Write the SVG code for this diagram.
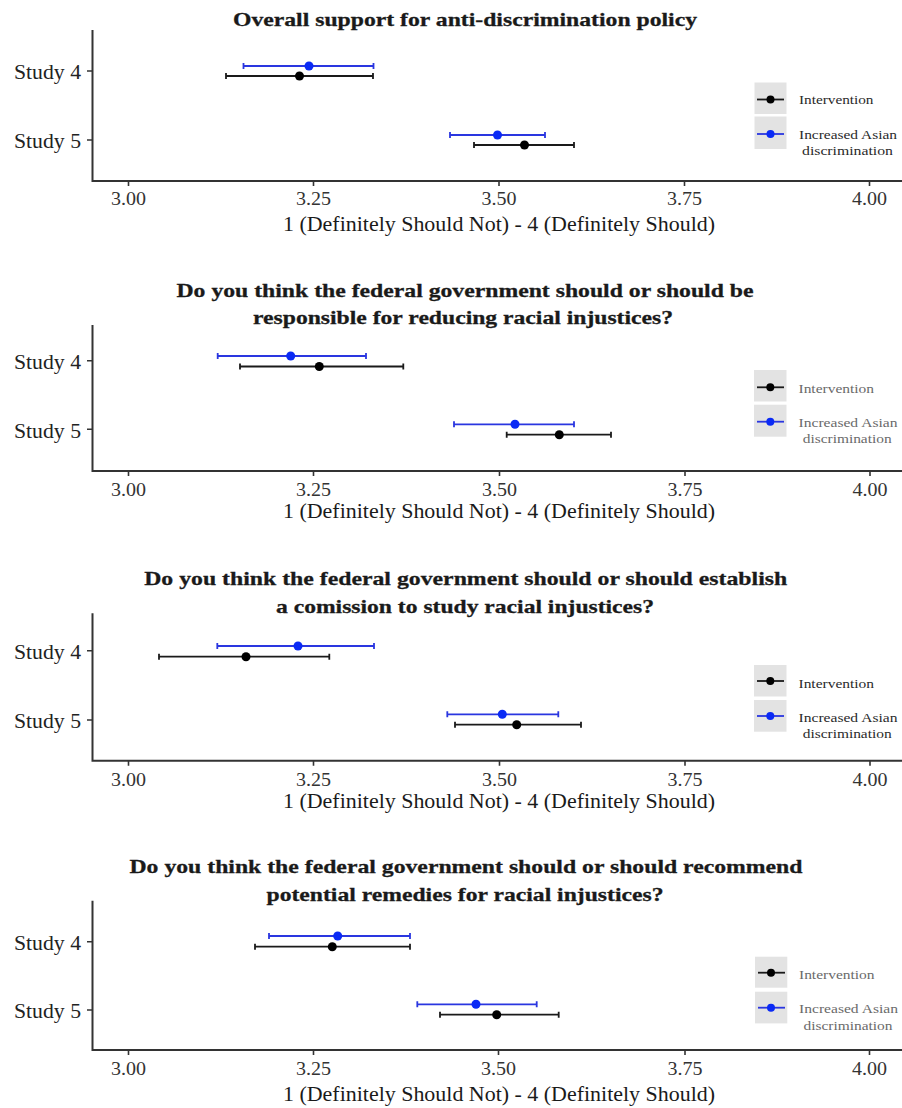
<svg xmlns="http://www.w3.org/2000/svg" width="902" height="1108" viewBox="0 0 902 1108">
<style>
.title{font-family:"Liberation Serif","Times New Roman",serif;font-weight:bold;font-size:19.5px;fill:#1a1a1a;stroke:#1a1a1a;stroke-width:0.3px;text-anchor:middle}
.ylab{font-family:"Liberation Serif","Times New Roman",serif;font-size:20px;fill:#222;text-anchor:end}
.tick{font-family:"Liberation Serif","Times New Roman",serif;font-size:19px;fill:#333;text-anchor:middle}
.xtitle{font-family:"Liberation Serif","Times New Roman",serif;font-size:20px;fill:#1a1a1a;text-anchor:middle}
.leg{font-family:"Liberation Serif","Times New Roman",serif;font-size:13.5px;fill:#2a2a2a}
.legc{font-family:"Liberation Serif","Times New Roman",serif;font-size:13.5px;fill:#2a2a2a;text-anchor:middle}
.faded .leg,.faded .legc{fill:#6a6a6a}
.axis{stroke:#333;stroke-width:2;fill:none}
.tk{stroke:#333;stroke-width:1.6}
.key{fill:#e3e3e3}
.bk{stroke:#1a1a1a;stroke-width:1.8;fill:none}
.bl{stroke:#2a36e0;stroke-width:1.8;fill:none}
.dk{fill:#000}
.db{fill:#0a2af5}
</style>

<!-- Panel 1 -->
<g id="panel1">
  <text class="title" x="465" y="26" textLength="464" lengthAdjust="spacingAndGlyphs">Overall support for anti-discrimination policy</text>
  <path class="axis" d="M92.5,30 V181 H902"/>
  <path class="tk" d="M87,71 H92.5 M87,140 H92.5 M128.5,181 V186 M313.5,181 V186 M499,181 V186 M684.5,181 V186 M869.5,181 V186"/>
  <text class="ylab" x="81" y="78.5" textLength="67" lengthAdjust="spacingAndGlyphs">Study 4</text>
  <text class="ylab" x="81" y="147.5" textLength="67" lengthAdjust="spacingAndGlyphs">Study 5</text>
  <text class="tick" x="128.5" y="205" textLength="35" lengthAdjust="spacingAndGlyphs">3.00</text>
  <text class="tick" x="313.5" y="205" textLength="35" lengthAdjust="spacingAndGlyphs">3.25</text>
  <text class="tick" x="499" y="205" textLength="35" lengthAdjust="spacingAndGlyphs">3.50</text>
  <text class="tick" x="684.5" y="205" textLength="35" lengthAdjust="spacingAndGlyphs">3.75</text>
  <text class="tick" x="869.5" y="205" textLength="35" lengthAdjust="spacingAndGlyphs">4.00</text>
  <text class="xtitle" x="499" y="231" textLength="432" lengthAdjust="spacingAndGlyphs">1 (Definitely Should Not) - 4 (Definitely Should)</text>
  <g id="p1-data">
    <path class="bl" d="M243.5,66 H373.5 M243.5,63 V69 M373.5,63 V69"/>
    <circle class="db" cx="309" cy="66" r="4.5"/>
    <path class="bk" d="M226,76 H373 M226,73 V79 M373,73 V79"/>
    <circle class="dk" cx="299.5" cy="76" r="4.5"/>
    <path class="bl" d="M450,135 H545 M450,132 V138 M545,132 V138"/>
    <circle class="db" cx="497.5" cy="135" r="4.5"/>
    <path class="bk" d="M474,145 H574 M474,142 V148 M574,142 V148"/>
    <circle class="dk" cx="524.5" cy="145" r="4.5"/>
  </g>
  <g id="p1-legend">
    <rect class="key" x="754.5" y="82.5" width="32" height="31.5"/>
    <rect class="key" x="754.5" y="116.5" width="32" height="32.5"/>
    <path class="bk" d="M757,99.5 H784"/>
    <circle class="dk" cx="770.5" cy="99.5" r="4"/>
    <path class="bl" d="M757,134 H784"/>
    <circle class="db" cx="770.5" cy="134" r="4"/>
    <text class="leg" x="799" y="104.3" textLength="74.5" lengthAdjust="spacingAndGlyphs">Intervention</text>
    <text class="leg" x="799" y="139.3" textLength="98" lengthAdjust="spacingAndGlyphs">Increased Asian</text>
    <text class="legc" x="847.5" y="155.3" textLength="91" lengthAdjust="spacingAndGlyphs">discrimination</text>
  </g>
</g>

<!-- Panel 2 -->
<g id="panel2">
  <text class="title" x="465" y="297" textLength="577" lengthAdjust="spacingAndGlyphs">Do you think the federal government should or should be</text>
  <text class="title" x="463" y="324" textLength="420" lengthAdjust="spacingAndGlyphs">responsible for reducing racial injustices?</text>
  <path class="axis" d="M92.5,325 V471 H902"/>
  <path class="tk" d="M87,360.7 H92.5 M87,429.3 H92.5 M128.5,471 V476 M313.5,471 V476 M499.5,471 V476 M685,471 V476 M870,471 V476"/>
  <text class="ylab" x="81" y="368.8" textLength="67" lengthAdjust="spacingAndGlyphs">Study 4</text>
  <text class="ylab" x="81" y="437.5" textLength="67" lengthAdjust="spacingAndGlyphs">Study 5</text>
  <text class="tick" x="128.5" y="496" textLength="35" lengthAdjust="spacingAndGlyphs">3.00</text>
  <text class="tick" x="313.5" y="496" textLength="35" lengthAdjust="spacingAndGlyphs">3.25</text>
  <text class="tick" x="499.5" y="496" textLength="35" lengthAdjust="spacingAndGlyphs">3.50</text>
  <text class="tick" x="685" y="496" textLength="35" lengthAdjust="spacingAndGlyphs">3.75</text>
  <text class="tick" x="870" y="496" textLength="35" lengthAdjust="spacingAndGlyphs">4.00</text>
  <text class="xtitle" x="499" y="518" textLength="432" lengthAdjust="spacingAndGlyphs">1 (Definitely Should Not) - 4 (Definitely Should)</text>
  <g id="p2-data">
    <path class="bl" d="M217.7,356 H366 M217.7,353 V359 M366,353 V359"/>
    <circle class="db" cx="290.7" cy="356" r="4.5"/>
    <path class="bk" d="M240,366.5 H403.3 M240,363.5 V369.5 M403.3,363.5 V369.5"/>
    <circle class="dk" cx="319.3" cy="366.5" r="4.5"/>
    <path class="bl" d="M454,424.3 H574 M454,421.3 V427.3 M574,421.3 V427.3"/>
    <circle class="db" cx="515" cy="424.3" r="4.5"/>
    <path class="bk" d="M506.7,434.7 H611 M506.7,431.7 V437.7 M611,431.7 V437.7"/>
    <circle class="dk" cx="559.3" cy="434.7" r="4.5"/>
  </g>
  <g id="p2-legend" class="faded">
    <rect class="key" x="754" y="370" width="32.5" height="31.5"/>
    <rect class="key" x="754" y="404.7" width="32.5" height="32"/>
    <path class="bk" d="M757,387.3 H784"/>
    <circle class="dk" cx="770.3" cy="387.3" r="4"/>
    <path class="bl" d="M757,421.7 H784"/>
    <circle class="db" cx="770.3" cy="421.7" r="4"/>
    <text class="leg" x="798.5" y="392.7" textLength="75.5" lengthAdjust="spacingAndGlyphs">Intervention</text>
    <text class="leg" x="798.5" y="427.3" textLength="99" lengthAdjust="spacingAndGlyphs">Increased Asian</text>
    <text class="legc" x="847.2" y="443.3" textLength="89" lengthAdjust="spacingAndGlyphs">discrimination</text>
  </g>
</g>

<!-- Panel 3 -->
<g id="panel3">
  <text class="title" x="465.7" y="585" textLength="643" lengthAdjust="spacingAndGlyphs">Do you think the federal government should or should establish</text>
  <text class="title" x="465" y="612.5" textLength="378" lengthAdjust="spacingAndGlyphs">a comission to study racial injustices?</text>
  <path class="axis" d="M92.5,613.3 V760.7 H902"/>
  <path class="tk" d="M87,650.7 H92.5 M87,720 H92.5 M128.5,760.7 V765.7 M313.5,760.7 V765.7 M499.5,760.7 V765.7 M685,760.7 V765.7 M870,760.7 V765.7"/>
  <text class="ylab" x="81" y="658.5" textLength="67" lengthAdjust="spacingAndGlyphs">Study 4</text>
  <text class="ylab" x="81" y="727.8" textLength="67" lengthAdjust="spacingAndGlyphs">Study 5</text>
  <text class="tick" x="128.5" y="786" textLength="35" lengthAdjust="spacingAndGlyphs">3.00</text>
  <text class="tick" x="313.5" y="786" textLength="35" lengthAdjust="spacingAndGlyphs">3.25</text>
  <text class="tick" x="499.5" y="786" textLength="35" lengthAdjust="spacingAndGlyphs">3.50</text>
  <text class="tick" x="685" y="786" textLength="35" lengthAdjust="spacingAndGlyphs">3.75</text>
  <text class="tick" x="870" y="786" textLength="35" lengthAdjust="spacingAndGlyphs">4.00</text>
  <text class="xtitle" x="499" y="808" textLength="432" lengthAdjust="spacingAndGlyphs">1 (Definitely Should Not) - 4 (Definitely Should)</text>
  <g id="p3-data">
    <path class="bl" d="M217.3,646 H374 M217.3,643 V649 M374,643 V649"/>
    <circle class="db" cx="298" cy="646" r="4.5"/>
    <path class="bk" d="M159,656.7 H329.3 M159,653.7 V659.7 M329.3,653.7 V659.7"/>
    <circle class="dk" cx="246" cy="656.7" r="4.5"/>
    <path class="bl" d="M447.3,714.3 H558.3 M447.3,711.3 V717.3 M558.3,711.3 V717.3"/>
    <circle class="db" cx="502.3" cy="714.3" r="4.5"/>
    <path class="bk" d="M455,724.7 H581 M455,721.7 V727.7 M581,721.7 V727.7"/>
    <circle class="dk" cx="516.7" cy="724.7" r="4.5"/>
  </g>
  <g id="p3-legend">
    <rect class="key" x="754" y="665" width="32.5" height="31.5"/>
    <rect class="key" x="754" y="700" width="32.5" height="31.7"/>
    <path class="bk" d="M757,681 H784"/>
    <circle class="dk" cx="770.3" cy="681" r="4"/>
    <path class="bl" d="M757,716 H784"/>
    <circle class="db" cx="770.3" cy="716" r="4"/>
    <text class="leg" x="798.5" y="687.7" textLength="75.5" lengthAdjust="spacingAndGlyphs">Intervention</text>
    <text class="leg" x="798.5" y="721.7" textLength="99" lengthAdjust="spacingAndGlyphs">Increased Asian</text>
    <text class="legc" x="847.2" y="737.7" textLength="89" lengthAdjust="spacingAndGlyphs">discrimination</text>
  </g>
</g>

<!-- Panel 4 -->
<g id="panel4">
  <text class="title" x="466" y="873" textLength="673" lengthAdjust="spacingAndGlyphs">Do you think the federal government should or should recommend</text>
  <text class="title" x="465" y="901" textLength="397" lengthAdjust="spacingAndGlyphs">potential remedies for racial injustices?</text>
  <path class="axis" d="M92.5,900.7 V1050 H902"/>
  <path class="tk" d="M87,941.7 H92.5 M87,1010 H92.5 M128.5,1050 V1055 M313.5,1050 V1055 M498.5,1050 V1055 M685,1050 V1055 M869.5,1050 V1055"/>
  <text class="ylab" x="81" y="949.5" textLength="67" lengthAdjust="spacingAndGlyphs">Study 4</text>
  <text class="ylab" x="81" y="1018" textLength="67" lengthAdjust="spacingAndGlyphs">Study 5</text>
  <text class="tick" x="128.5" y="1075" textLength="35" lengthAdjust="spacingAndGlyphs">3.00</text>
  <text class="tick" x="313.5" y="1075" textLength="35" lengthAdjust="spacingAndGlyphs">3.25</text>
  <text class="tick" x="498.5" y="1075" textLength="35" lengthAdjust="spacingAndGlyphs">3.50</text>
  <text class="tick" x="685" y="1075" textLength="35" lengthAdjust="spacingAndGlyphs">3.75</text>
  <text class="tick" x="869.5" y="1075" textLength="35" lengthAdjust="spacingAndGlyphs">4.00</text>
  <text class="xtitle" x="499" y="1100.5" textLength="432" lengthAdjust="spacingAndGlyphs">1 (Definitely Should Not) - 4 (Definitely Should)</text>
  <g id="p4-data">
    <path class="bl" d="M269,936 H410 M269,933 V939 M410,933 V939"/>
    <circle class="db" cx="337.7" cy="936" r="4.5"/>
    <path class="bk" d="M255,946.7 H410 M255,943.7 V949.7 M410,943.7 V949.7"/>
    <circle class="dk" cx="332.3" cy="946.7" r="4.5"/>
    <path class="bl" d="M417.3,1004.3 H536.7 M417.3,1001.3 V1007.3 M536.7,1001.3 V1007.3"/>
    <circle class="db" cx="476" cy="1004.3" r="4.5"/>
    <path class="bk" d="M440,1014.7 H558.7 M440,1011.7 V1017.7 M558.7,1011.7 V1017.7"/>
    <circle class="dk" cx="496.7" cy="1014.7" r="4.5"/>
  </g>
  <g id="p4-legend" class="faded">
    <rect class="key" x="755" y="956.7" width="32.3" height="31"/>
    <rect class="key" x="755" y="991.7" width="32.3" height="31.7"/>
    <path class="bk" d="M758,972.7 H785"/>
    <circle class="dk" cx="771" cy="972.7" r="4"/>
    <path class="bl" d="M758,1007.7 H785"/>
    <circle class="db" cx="771" cy="1007.7" r="4"/>
    <text class="leg" x="799" y="979.3" textLength="75.5" lengthAdjust="spacingAndGlyphs">Intervention</text>
    <text class="leg" x="799" y="1013.3" textLength="99" lengthAdjust="spacingAndGlyphs">Increased Asian</text>
    <text class="legc" x="848" y="1030" textLength="89" lengthAdjust="spacingAndGlyphs">discrimination</text>
  </g>
</g>
</svg>
